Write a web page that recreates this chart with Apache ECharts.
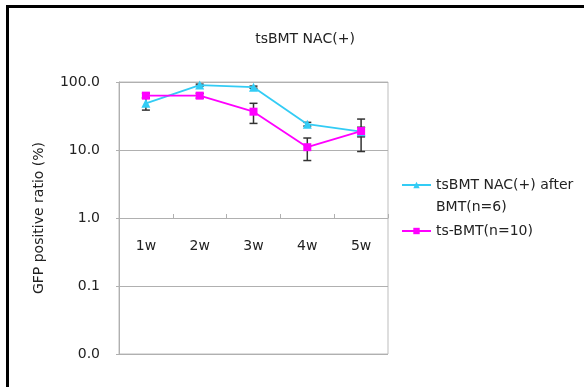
<!DOCTYPE html>
<html>
<head>
<meta charset="utf-8">
<script src="https://cdn.jsdelivr.net/npm/echarts@6/dist/echarts.min.js"></script>
<style>html,body{margin:0;padding:0;background:#fff}#c{width:584px;height:387px}</style>
</head>
<body>
<div id="c"></div>
<script>
const categories = ['1w', '2w', '3w', '4w', '5w'];
const seriesNames = ['tsBMT NAC(+) after BMT(n=6)', 'ts-BMT(n=10)'];
const nacValues = [48.6, 90, 84, 24, 18.6];
const nacErrors = [10, 3, 3, 1.5, 3];
const bmtValues = [63, 63, 36.6, 11, 19];
const bmtErrors = [5, 5, 12, 4, 9.5];
const yTicks = [0.01, 0.1, 1, 10, 100];

const FONT = 'DejaVu Sans';
const chart = echarts.init(document.getElementById('c'), null, {renderer: 'canvas'});

function errData(vals, errs) {
  return vals.map((v, i) => [i, v, errs[i]]);
}
function errRender(params, api) {
  const i = api.value(0), v = api.value(1), e = api.value(2);
  const top = api.coord([i, v + e]);
  const bot = api.coord([i, Math.max(v - e, 0.0101)]);
  const w = 4;
  const style = {stroke: '#333', lineWidth: 1.5};
  return {
    type: 'group',
    children: [
      {type: 'line', shape: {x1: top[0], y1: top[1], x2: bot[0], y2: bot[1]}, style},
      {type: 'line', shape: {x1: top[0] - w, y1: top[1], x2: top[0] + w, y2: top[1]}, style},
      {type: 'line', shape: {x1: bot[0] - w, y1: bot[1], x2: bot[0] + w, y2: bot[1]}, style}
    ]
  };
}

const option = {
  animation: false,
  backgroundColor: '#fff',
  textStyle: {fontFamily: FONT},
  title: {
    text: 'tsBMT NAC(+)',
    left: 300, top: 27, textAlign: 'center',
    textStyle: {fontFamily: FONT, fontSize: 14, fontWeight: 'normal', color: '#222'}
  },
  graphic: [{
    type: 'rect', silent: true,
    shape: {x: 7.5, y: 6.5, width: 800, height: 600},
    style: {fill: 'none', stroke: '#000', lineWidth: 3}
  }],
  grid: {left: 119, top: 82, right: 196, bottom: 33, show: true, borderColor: '#bdbdbd', borderWidth: 1, backgroundColor: 'transparent'},
  legend: [{
    data: [seriesNames[0]],
    left: 401, top: 152, padding: 0,
    itemWidth: 29, itemHeight: 8,
    formatter: () => ' \ntsBMT NAC(+) after\nBMT(n=6)',
    textStyle: {fontFamily: FONT, fontSize: 14, color: '#222', lineHeight: 22}
  }, {
    data: [seriesNames[1]],
    left: 401, top: 220, padding: 0,
    itemWidth: 29, itemHeight: 8,
    textStyle: {fontFamily: FONT, fontSize: 14, color: '#222', lineHeight: 22}
  }],
  xAxis: {
    type: 'category',
    data: categories,
    position: 'bottom',
    offset: -136,
    boundaryGap: true,
    axisLine: {show: true, lineStyle: {color: '#b0b0b0', width: 1}},
    axisTick: {show: true, inside: true, length: 4, lineStyle: {color: '#b0b0b0'}},
    axisLabel: {margin: 21, fontFamily: FONT, fontSize: 14, color: '#222'},
    splitLine: {show: false}
  },
  yAxis: {
    type: 'log',
    logBase: 10,
    min: yTicks[0], max: yTicks[yTicks.length - 1],
    name: 'GFP positive ratio (%)',
    nameLocation: 'middle',
    nameGap: 73,
    nameRotate: 90,
    nameTextStyle: {fontFamily: FONT, fontSize: 14, color: '#222'},
    axisLine: {show: true, lineStyle: {color: '#b0b0b0'}},
    axisTick: {show: true, length: 3, lineStyle: {color: '#b0b0b0'}},
    axisLabel: {margin: 19, fontFamily: FONT, fontSize: 14, color: '#222', formatter: v => Number(v).toFixed(1)},
    splitLine: {show: true, lineStyle: {color: '#b0b0b0', width: 1}}
  },
  series: [
    {
      type: 'custom', name: 'errNac', renderItem: errRender, data: errData(nacValues, nacErrors), z: 1, silent: true,
      encode: {x: 0, y: 1}
    },
    {
      type: 'custom', name: 'errBmt', renderItem: errRender, data: errData(bmtValues, bmtErrors), z: 1, silent: true,
      encode: {x: 0, y: 1}
    },
    {
      name: seriesNames[0], type: 'line', data: nacValues, z: 2,
      symbol: 'triangle', symbolSize: 9,
      itemStyle: {color: '#33ccf5'}, lineStyle: {color: '#33ccf5', width: 1.8}
    },
    {
      name: seriesNames[1], type: 'line', data: bmtValues, z: 3,
      symbol: 'rect', symbolSize: 8,
      itemStyle: {color: '#ff00ff'}, lineStyle: {color: '#ff00ff', width: 1.8}
    }
  ]
};
chart.setOption(option);
</script>
</body>
</html>
